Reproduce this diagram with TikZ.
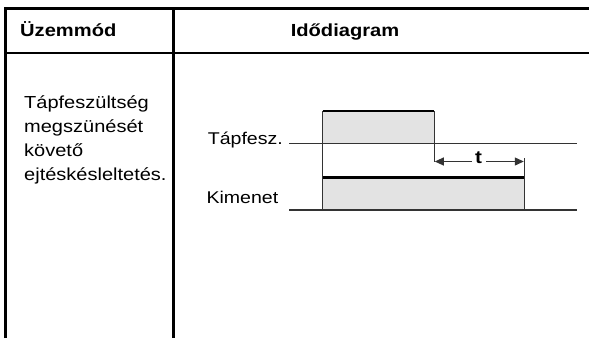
\documentclass[tikz,border=0pt]{standalone}
\usepackage{fontspec}
\setmainfont{Liberation Sans}[FakeStretch=1.15]
\usetikzlibrary{arrows.meta}
\begin{document}
\begin{tikzpicture}[x=1pt,y=-1pt,
  tbl/.style={line width=2.8pt,black,line join=miter},
  sig/.style={line width=1.1pt,draw=black!80},
  hi/.style={line width=2.8pt,black},
  pulse/.style={fill=black!11},
  arr/.style={sig,-{Triangle[length=9pt,width=8pt]}},
  lbl/.style={inner sep=0,font=\fontsize{17}{20}\selectfont,anchor=base east},
  hdr/.style={inner sep=0,font=\bfseries\fontsize{17.5}{20}\selectfont},
  txt/.style={inner sep=0,anchor=base west,font=\fontsize{17.4}{24}\selectfont},
]
\useasboundingbox (0,0) rectangle (589,338);
% table
\draw[tbl] (5.3,338) -- (5.3,8.7) -- (589,8.7);
\draw[tbl] (5.3,53) -- (589,53);
\draw[tbl] (173.7,8.7) -- (173.7,338);
\node[hdr,anchor=base west] (h1) at (20,36.5) {Üzemmód};
\node[hdr,anchor=base] (h2) at (345,36.5) {Idődiagram};
% description
\node[txt] (d1) at (24,108.5) {Tápfeszültség};
\node[txt] (d2) at (24,132.5) {megszünését};
\node[txt] (d3) at (24,156.5) {követő};
\node[txt] (d4) at (24,180.5) {ejtéskésleltetés.};
% timing diagram
\fill[pulse] (322.7,111) rectangle (434.3,143.3);
\fill[pulse] (322.7,177.3) rectangle (524.3,210);
\draw[sig] (289,143.3) -- (577,143.3);
\draw[sig] (289,210) -- (577,210);
\draw[sig] (322.7,111) -- (322.7,210);
\draw[sig] (434.3,111) -- (434.3,161.5);
\draw[sig] (524.3,158) -- (524.3,210);
\draw[hi] (322.7,111) -- (434.3,111);
\draw[hi] (322.7,177.3) -- (524.3,177.3);
\node[lbl] (tap) at (283,144) {Tápfesz.};
\node[lbl] (kim) at (278.5,203.3) {Kimenet};
\node[inner sep=0,anchor=base,font=\bfseries\fontsize{18}{20}\selectfont] (t) at (478.5,163.5) {t};
\coordinate (ta) at (472,161.5);
\coordinate (tb) at (486,161.5);
\coordinate (tl) at (434.8,161.5);
\coordinate (tr) at (523.8,161.5);
\draw[arr] (ta) -- (tl);
\draw[arr] (tb) -- (tr);
\end{tikzpicture}
\end{document}
